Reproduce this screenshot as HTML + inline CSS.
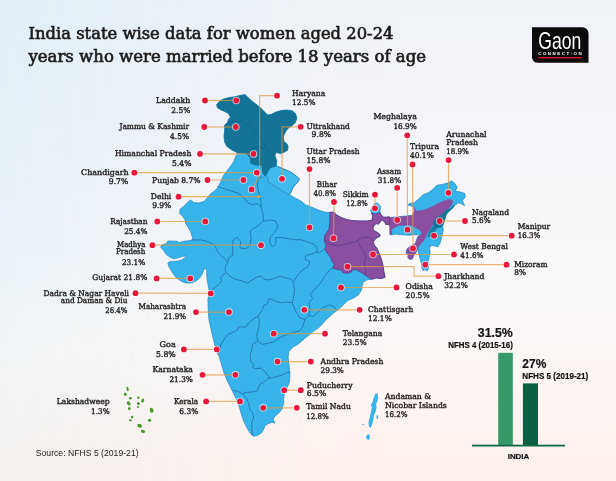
<!DOCTYPE html>
<html lang="en"><head><meta charset="utf-8"><title>India state wise data for women aged 20-24 years who were married before 18 years of age</title>
<style>
html,body{margin:0;padding:0;background:#fff;}
body{width:616px;height:481px;overflow:hidden;}
svg{display:block;}
.lbl{font-family:"DejaVu Serif","Liberation Serif",serif;font-size:7.8px;fill:#231f20;stroke:#231f20;stroke-width:0.38px;}
.ttl{font-family:"DejaVu Serif","Liberation Serif",serif;font-size:15.9px;fill:#1c1c1c;stroke:#1c1c1c;stroke-width:0.62px;}
.sb{font-family:"Liberation Sans",sans-serif;font-weight:bold;fill:#111;stroke:#111;stroke-width:0.2px;}
</style></head><body>
<svg width="616" height="481" viewBox="0 0 616 481">
<defs>
<linearGradient id="bgR" x1="0" y1="0" x2="0" y2="1">
<stop offset="0" stop-color="#eff3f7"/><stop offset="0.25" stop-color="#f4f4f9"/><stop offset="0.63" stop-color="#fcf9f9"/><stop offset="0.85" stop-color="#fdf4f1"/><stop offset="0.97" stop-color="#fdf1ed"/>
</linearGradient>
<linearGradient id="bgL" x1="0" y1="0" x2="0" y2="1">
<stop offset="0" stop-color="#e1eef6"/><stop offset="0.23" stop-color="#e4eff6"/><stop offset="0.52" stop-color="#e8f1f7"/><stop offset="0.73" stop-color="#f0f4f6"/><stop offset="0.97" stop-color="#f4f0ed"/>
</linearGradient>
<linearGradient id="mg" x1="0" y1="0" x2="1" y2="0">
<stop offset="0" stop-color="#fff" stop-opacity="1"/><stop offset="0.2" stop-color="#fff" stop-opacity="0.62"/><stop offset="0.5" stop-color="#fff" stop-opacity="0.1"/><stop offset="0.68" stop-color="#fff" stop-opacity="0"/>
</linearGradient>
<mask id="mL" maskUnits="userSpaceOnUse" x="0" y="0" width="616" height="481"><rect width="616" height="481" fill="url(#mg)"/></mask>
</defs>
<rect width="616" height="481" fill="url(#bgR)"/>
<rect width="616" height="481" fill="url(#bgL)" mask="url(#mL)"/>

<g stroke-linejoin="round">
<path d="M216.6,104.8 L218.8,101.9 L223.2,99 L229,97.5 L234.1,96.8 L240.7,95.3 L245.1,94.6 L248,97.5 L252.4,101.2 L256.8,104.8 L260.4,107.7 L264.1,111.4 L267.7,115 L271.4,114.3 L275.8,112.1 L280.9,110.6 L286,109.9 L291.8,110.6 L295.5,113.6 L296.9,118 L295.5,122.3 L291.8,126 L288.2,128.2 L285.5,131.8 L283.4,136.5 L284,141.5 L287.4,144.3 L288.2,147.5 L287.4,150.4 L283.7,152.5 L280.6,153.7 L276.2,152.5 L275,155.6 L276.8,161 L276.5,166 L281.2,168 L286.2,170 L291.2,172.4 L295.5,175.5 L299.3,178.7 L298,181.8 L294.9,184.9 L292.4,188.6 L291.2,191.8 L289.5,194.6 L295.4,198.2 L300.6,200.8 L305.8,204.9 L309.9,206.5 L315.1,208.6 L320.3,210.7 L325.5,212.2 L329.7,212.5 L333.9,212.2 L337,215.3 L341.1,217.4 L345,219 L350,220.3 L355,220.8 L361.2,221 L367.5,221 L372.2,220 L372.7,215.8 L371.6,213.2 L370.6,210.6 L373.7,204.4 L377.3,202.8 L380.5,206.4 L379.9,211.6 L381,214.7 L383.6,217.3 L385,217.4 L390.8,217.4 L399.6,216.6 L406.9,215.9 L412.8,215.2 L414.2,210.8 L413,206.4 L408.4,205.3 L409,203.5 L414.2,202.8 L418.6,199.1 L423,194.7 L428.8,192.5 L433.2,188.9 L436.9,185.2 L442,184.5 L447.8,183 L451.5,180.8 L455.1,183.8 L457.3,187.4 L455.1,191.1 L459.5,191.8 L464.6,193.3 L465.4,196.9 L462.4,200.6 L464.6,205.7 L461,203.5 L458.1,202.8 L453.7,206.4 L449.3,210.8 L446.4,213.7 L444.9,218.8 L443.4,223.9 L442.5,227 L443.4,229.7 L441.8,236.3 L440.1,242.9 L437.9,246.8 L433.5,245.7 L430.2,245.7 L429.7,248.4 L430.2,252.8 L429.1,257.2 L428,261.6 L428.6,266 L428,269.9 L426.4,271 L424.7,269.3 L423.1,270.4 L422,268.2 L421.4,263.8 L420.3,259.4 L419.2,255 L418.1,250.6 L418.2,247.5 L417,250.6 L415.4,253.4 L413.7,255.6 L412.6,258.9 L409.9,259.4 L407.7,257.8 L408.2,255 L406,252.8 L406.6,249.5 L409.3,246.8 L413,244.5 L415.4,243.5 L416.5,239.6 L418.1,236.3 L420.9,234.7 L414.8,234.7 L408.2,235.2 L401.6,234.7 L395,234.1 L391.9,235 L389.8,234.5 L389.8,225.1 L386.2,224.1 L383.6,221 L381.5,220 L380,222.5 L378.4,224.1 L376.3,223.6 L374.2,225.1 L372.7,228.3 L374.2,230.9 L377.3,232.4 L380,234.5 L379.9,236.3 L376,238.2 L373.4,241.5 L374.1,244.7 L376.7,248 L378.6,251.9 L380.6,257.1 L381.9,261 L383.2,266.2 L383.8,271.4 L385.1,277.2 L381.2,278.5 L376,277.9 L372.1,279.2 L367,279.8 L363,282.4 L361.8,287 L361.5,290 L358.2,295 L353.2,298.3 L347.4,300.8 L339.9,308.3 L333.3,313.3 L325.8,319.9 L320,326.6 L313.3,331.6 L305,338.2 L298.7,343.7 L292.4,347.5 L288.7,351.8 L288.1,357.5 L288.7,362.5 L289.3,367.5 L289.9,372.4 L289.9,377.4 L289.3,382.4 L287.2,387.5 L284.6,392.5 L283.7,398.7 L283.7,403.7 L281.8,409.3 L278.7,413.1 L274.9,416.2 L273.1,419.3 L274.9,423.1 L271.8,422.4 L268.1,423.7 L265,425.6 L263.7,429.3 L261.2,433.1 L257.5,435.6 L253.1,436.2 L250,433.1 L246.8,427.4 L243.7,421.2 L241.2,413.7 L238.7,405 L236.2,398.7 L232.9,392.1 L227.5,381.4 L223.9,372.5 L221.3,363.6 L218.6,354.6 L215,345.7 L212.3,335 L209,320 L208.3,312 L207.9,299 L209.3,293.4 L208.9,289 L207.4,281.8 L206.7,275.2 L206.7,270.1 L205.2,267.9 L203.8,270.1 L202.3,273.8 L200.1,277.4 L197.2,280.3 L192.8,282.5 L188.5,283.2 L184.1,282.5 L179.7,280.3 L176.1,277.4 L173.2,273.8 L171,270.1 L168.8,266.5 L167.8,263.1 L169.6,261.7 L173.9,261.4 L178.3,261.1 L181.9,259.9 L184.8,257.7 L186.3,255.9 L182.7,256.3 L178.3,257.7 L173.9,258.8 L169.6,257 L165.9,254.1 L163.7,250.5 L160.6,247.1 L162,244.8 L166.5,243.6 L167.7,241 L176.8,241.2 L179.4,242.5 L184.1,241.3 L192,240.3 L192.6,238.5 L192,236.1 L190.7,231.8 L188.2,227.4 L185.7,223.7 L185.1,219.9 L182.6,216.2 L179.5,213.1 L180.1,209.3 L184.5,205.6 L188.2,201.8 L190.7,200 L193.8,202.5 L198.8,203.1 L204.4,201.2 L207.5,197.5 L210.7,193.7 L215.7,190 L218.5,186.5 L220.7,181.8 L224,174.7 L228,169.5 L233,163 L236,156 L237.8,153 L231.9,150.1 L226.8,146.4 L224.6,142.1 L223.9,136.2 L224.6,130.4 L224.6,125.3 L227.5,122.3 L228.3,119.4 L230.5,117.2 L228.3,113.6 L224.6,111.4 L221,109.9 L217.3,107.7Z" fill="#37b4ea" stroke="#2786c4" stroke-width="0.7"/>
<path d="M268.7,168.7 L271.8,166.8 L276.8,166.2 L281.2,168 L286.2,170 L291.2,172.4 L295.5,175.5 L299.3,178.7 L298,181.8 L294.9,184.9 L292.4,188.6 L291.2,191.8 L288.7,194.9 L284.9,192.4 L278.7,188.6 L273.7,185.5 L268.7,182.4 L266.8,176.2 L267.5,171.2Z" fill="#41baee" stroke="#2172ab" stroke-width="0.6"/>
<path d="M329.7,212.3 L333.9,212.2 L337,215.3 L341.1,217.4 L345,219 L350,220.3 L355,220.8 L361.2,221 L367.5,221 L372.2,220 L372.7,215.8 L371.6,213.2 L375.8,214.2 L379.9,212.5 L381,214.7 L383.6,217.3 L389.3,216.8 L389.8,225.1 L386.2,224.1 L383.6,221 L381.5,220 L380,222.5 L378.4,224.1 L376.3,223.6 L374.2,225.1 L372.7,228.3 L374.2,230.9 L377.3,232.4 L380,234.5 L379.9,236.3 L376,238.2 L373.4,241.5 L374.1,244.7 L376.7,248 L378.6,251.9 L380.6,257.1 L381.9,261 L383.2,266.2 L383.8,271.4 L385.1,277.2 L381.2,278.5 L376,277.9 L372.1,279.2 L368.2,277.2 L364.4,274.6 L360.5,272 L356.6,270.1 L352.7,269.4 L351.4,272 L347.5,273.3 L342.9,272.7 L341.6,270.1 L337.1,269.4 L332.5,268.1 L334.5,264.9 L331.9,261 L330.6,257.1 L327.3,253.2 L324.7,249.3 L326,245.4 L324.1,240.2 L325,235 L329,229 L330,220Z" fill="#8a4fa0"/>
<path d="M385,217.4 L390.8,217.4 L399.6,216.6 L406.9,215.9 L412.8,215.2 L414.2,210.8 L414.2,206.4 L416.4,210.8 L423,210 L428.8,207.9 L434.7,205 L440.5,202 L446.4,199.8 L450,199.1 L452.9,200.6 L452.2,204.2 L449.3,207.9 L446.4,210.8 L443.4,213.7 L439.1,216.6 L436.1,218.8 L434,221.8 L432.5,225.4 L430.8,228.1 L428,232.5 L425.8,237.4 L423.6,241.3 L420.9,244 L418.7,246.8 L417,250.6 L415.4,253.4 L413.7,255.6 L412.6,258.9 L409.9,259.4 L407.7,257.8 L408.2,255 L406,252.8 L406.6,249.5 L409.3,246.8 L413,244.5 L415.4,243.5 L416.5,239.6 L418.1,236.3 L420.9,234.7 L421.4,233 L419.8,230.3 L414.8,227.5 L411.3,225.4 L404,225.4 L398.1,226.1 L392.3,229.1 L391.9,235 L389.8,234.5 L389.8,225.1 L385,224.7Z" fill="#8a4fa0"/>
<path d="M435.5,218.5 L439.1,215.8 L443.4,212.7 L446.8,209.6 L450.3,208.5 L452.5,206 L455,205 L453.7,207.5 L449.3,211.5 L446.6,214.5 L445.2,219 L443.6,224 L441.6,227.3 L437.6,228 L433,226.3 L433.6,221.8Z" fill="#157397"/>
<path d="M433,226.3 L437.6,228 L434,232.5 L430,237.5 L427.2,236.5 L430.3,229.1Z" fill="#157397" fill-opacity="0.85"/>
<path d="M216.6,104.8 L218.8,101.9 L223.2,99 L229,97.5 L234.1,96.8 L240.7,95.3 L245.1,94.6 L248,97.5 L252.4,101.2 L256.8,104.8 L260.4,107.7 L264.1,111.4 L267.7,115 L271.4,114.3 L275.8,112.1 L280.9,110.6 L286,109.9 L291.8,110.6 L295.5,113.6 L296.9,118 L295.5,122.3 L291.8,126 L288.2,128.2 L285.5,131.8 L283.4,136.5 L284,141.5 L287.4,144.3 L288.2,147.5 L287.4,150.4 L283.7,152.5 L280.6,153.7 L276.2,152.5 L275,155.6 L276.8,161 L276,166 L270,168.5 L268,172 L265,176.8 L262.3,172.4 L261.5,166 L256,165.5 L250.3,163.5 L249.9,157.8 L246,153.9 L237.8,153 L231.9,150.1 L226.8,146.4 L224.6,142.1 L223.9,136.2 L224.6,130.4 L224.6,125.3 L227.5,122.3 L228.3,119.4 L230.5,117.2 L228.3,113.6 L224.6,111.4 L221,109.9 L217.3,107.7Z" fill="#157397"/>
<g fill="none" stroke="#2172ab" stroke-width="0.9" stroke-linejoin="round">
<path d="M191.4,239.9 L200.8,239.9 L209.1,242 L215,245.6 L217.5,251.2 L221.2,255.6 L225,258.7 L227.5,262.5"/>
<path d="M227.5,262.5 L225.6,266.2 L225,270 L226.2,272.4 L223.1,275 L220.6,277.4 L221.9,280.6 L219.4,283.7 L215.4,287.5 L210.2,290.8"/>
<path d="M227.5,262.5 L228.7,257.5 L233.1,255 L232.5,248.7 L233.1,240 L236.8,237.5 L240.6,241.2 L240,248.1 L246.2,248.7 L250,245 L251.2,237.5 L250,231.2 L253.1,228.7 L257.4,226.2 L263.2,221.2"/>
<path d="M217.3,186.5 L228,190 L238,193 L244,198 L247.6,202.5 L251.7,204.6 L258,203.5 L261.2,207.5 L263.3,215.8 L263.2,221.2 L269.6,220 L275.8,221 L277.9,226.2 L274.8,232.4 L270.6,236.6 L269.6,242.8 L272.7,247 L275.8,243.9 L275.8,237.6"/>
<path d="M262.6,177 L258.5,178 L257.2,185.1 L258.5,191.9 L259.9,196.6 L261.2,204 L261.2,207.5"/>
<path d="M275.8,237.6 L282,237.6 L288.3,238.7 L294.5,239.7 L300.7,239.7 L307,241.8 L313.2,243.9 L317.4,248 L316.3,252.2 L319.5,252.2 L323.6,250.1"/>
<path d="M316.3,252.2 L311.1,254.3 L305.9,255.3 L304.9,259.4 L310.1,261.5 L308,266.7 L302.8,269.8 L298.7,274 L295.5,278.2 L293.5,282.3"/>
<path d="M226.2,272.4 L230,276.2 L235,279.3 L241.2,280.6 L247.5,283.1 L252.4,279.9 L257.4,276.8 L261.2,276.2 L263.7,279.3 L268.7,279.9 L273.7,278.7 L280,276.2 L286,278 L290.7,279.1 L293.5,282.3"/>
<path d="M293.5,282.3 L294.6,290.8 L293.3,298.6 L292,302.5 L295.9,311.6 L299.8,318.1 L305,319.4 L308.9,315.5 L310.2,309 L308.9,302.5 L312.8,298.6 L310.2,294.7 L315.4,288.2 L320.6,283 L324.5,276.5 L329.7,270 L332.5,268.1"/>
<path d="M292,302.5 L285,302.2 L281.5,302.7 L276.6,301.7 L271.7,299.3 L268.8,298.8 L266.9,304.6 L263.5,305.6 L262.5,309.5 L260.5,312.9 L258.1,315.8"/>
<path d="M258.1,315.8 L253.2,319.2 L248.4,323.1 L245.9,327 L238.6,327 L237.7,329.9 L232.8,332.4 L227.9,334.3 L224.5,338.8 L220.6,345.3 L216.7,347.9"/>
<path d="M220.6,345.3 L220,351 L217.3,354.5"/>
<path d="M258.1,315.8 L259.1,319.2 L259.1,325 L258.1,330 L256.8,335 L257.5,341.2"/>
<path d="M257.5,341.2 L262.5,344.4 L268.7,343.1 L273.7,341.9 L277.4,339.4 L281.2,336.9 L287.4,334.4 L293.7,332.5 L299.9,330.6 L303,326 L305,319.4"/>
<path d="M308.9,315.5 L313,316.5 L318,312 L323,307.5 L329,305 L334,306.5 L337,310.5"/>
<path d="M257.5,341.2 L252.5,344.4 L251.9,350 L250,355 L250.6,361.2 L253.7,364.3 L252.5,367.5 L255.6,368.7 L261.2,368.1 L264.3,371.2 L267.5,374.9 L269.3,378.1 L273.7,377.4 L278.7,376.2 L283.7,374.3 L287.4,372.4 L289.9,372.4"/>
<path d="M269.3,378.1 L266.2,380 L263.7,382.5 L260.6,383.7 L258.7,386.9 L257.5,390.6 L252.5,391.9 L246.2,392.5 L242.5,393.7 L238,391.5 L232.5,390"/>
<path d="M242.5,393.7 L246.8,398.7 L248.7,403.7 L250,410 L252.5,412.5 L253.7,417.5 L251.8,422.4 L251.8,428.7 L252.5,434.9"/>
</g>
<g fill="none" stroke="#5b2f86" stroke-width="0.9" stroke-opacity="0.8" stroke-linejoin="round">
<path d="M329.7,212.3 L333.9,212.2 L337,215.3 L341.1,217.4 L345,219 L350,220.3 L355,220.8 L361.2,221 L367.5,221 L372.2,220 L372.7,215.8 L371.6,213.2 L375.8,214.2 L379.9,212.5 L381,214.7 L383.6,217.3 L389.3,216.8 L389.8,225.1 L386.2,224.1 L383.6,221 L381.5,220 L380,222.5 L378.4,224.1 L376.3,223.6 L374.2,225.1 L372.7,228.3 L374.2,230.9 L377.3,232.4 L380,234.5 L379.9,236.3 L376,238.2 L373.4,241.5 L374.1,244.7 L376.7,248 L378.6,251.9 L380.6,257.1 L381.9,261 L383.2,266.2 L383.8,271.4 L385.1,277.2 L381.2,278.5 L376,277.9 L372.1,279.2 L368.2,277.2 L364.4,274.6 L360.5,272 L356.6,270.1 L352.7,269.4 L351.4,272 L347.5,273.3 L342.9,272.7 L341.6,270.1 L337.1,269.4 L332.5,268.1 L334.5,264.9 L331.9,261 L330.6,257.1 L327.3,253.2 L324.7,249.3 L326,245.4 L324.1,240.2 L325,235 L329,229 L330,220Z"/>
<path d="M324.6,239.7 L329.8,243.9 L338.2,245.9 L346.5,243.9 L355,241.8 L362,238 L368,237 L374,241"/>
<path d="M358,240.5 L360.5,247 L364,252 L366,258 L364,263 L366,269 L365,274.8"/>
</g>
<g fill="none" stroke="#10506b" stroke-width="0.7" stroke-opacity="0.55">
<path d="M224.6,125.3 L233,121 L243,122 L252,128 L259,136 L265,145 L270,152 L275,155.6"/>
<path d="M246,153.9 L252,149 L259,147 L265,149"/>
</g>
<path d="M375.3,393.8 L377.7,393.4 L378.2,397.2 L377.3,401.9 L375.9,403.9 L376.6,407.3 L375.5,412 L373.9,415.4 L373.2,420.1 L372.3,424.2 L370.5,428 L368.9,426.2 L368.5,422.2 L369.6,418.1 L370.5,414.1 L371.2,410.7 L371.9,407.3 L370.9,404.6 L372.6,401.9 L373.6,397.8Z" fill="#37b4ea"/>
<path d="M376.6,415 L378.2,415.4 L378,418.5 L376.4,418.8Z" fill="#37b4ea"/>
<path d="M362.4,423.8 L364.2,424.2 L363.9,425.3 L362.6,425.1Z" fill="#37b4ea"/>
<path d="M367.8,433.9 L369.6,435 L369.9,437.7 L368.5,440.1 L366.5,439.1 L366.1,436.4Z" fill="#37b4ea"/>
<ellipse cx="127.6" cy="389.1" rx="1.1" ry="2.3" fill="#4a9a2c" stroke="#fff" stroke-opacity="0.6" stroke-width="0.8" paint-order="stroke" transform="rotate(-10 127.6 389.1)"/>
<ellipse cx="125.3" cy="394.3" rx="1.4" ry="1.7" fill="#4a9a2c" stroke="#fff" stroke-opacity="0.6" stroke-width="0.8" paint-order="stroke" transform="rotate(-30 125.3 394.3)"/>
<ellipse cx="130.4" cy="398.3" rx="1.5" ry="1.3" fill="#4a9a2c" stroke="#fff" stroke-opacity="0.6" stroke-width="0.8" paint-order="stroke" transform="rotate(0 130.4 398.3)"/>
<ellipse cx="128.7" cy="403.4" rx="1.6" ry="2.4" fill="#4a9a2c" stroke="#fff" stroke-opacity="0.6" stroke-width="0.8" paint-order="stroke" transform="rotate(-40 128.7 403.4)"/>
<ellipse cx="129.3" cy="408.6" rx="1.4" ry="1.6" fill="#4a9a2c" stroke="#fff" stroke-opacity="0.6" stroke-width="0.8" paint-order="stroke" transform="rotate(0 129.3 408.6)"/>
<ellipse cx="138.4" cy="397.7" rx="1.2" ry="1.2" fill="#4a9a2c" stroke="#fff" stroke-opacity="0.6" stroke-width="0.8" paint-order="stroke" transform="rotate(0 138.4 397.7)"/>
<ellipse cx="142.8" cy="400.6" rx="1.4" ry="2.1" fill="#4a9a2c" stroke="#fff" stroke-opacity="0.6" stroke-width="0.8" paint-order="stroke" transform="rotate(25 142.8 400.6)"/>
<ellipse cx="138.4" cy="403.4" rx="1.5" ry="1.5" fill="#4a9a2c" stroke="#fff" stroke-opacity="0.6" stroke-width="0.8" paint-order="stroke" transform="rotate(0 138.4 403.4)"/>
<ellipse cx="137.9" cy="406.9" rx="0.9" ry="1.2" fill="#4a9a2c" stroke="#fff" stroke-opacity="0.6" stroke-width="0.8" paint-order="stroke" transform="rotate(0 137.9 406.9)"/>
<ellipse cx="151.6" cy="410.3" rx="1.8" ry="2.6" fill="#4a9a2c" stroke="#fff" stroke-opacity="0.6" stroke-width="0.8" paint-order="stroke" transform="rotate(-20 151.6 410.3)"/>
<ellipse cx="132.1" cy="417.1" rx="1.3" ry="1.4" fill="#4a9a2c" stroke="#fff" stroke-opacity="0.6" stroke-width="0.8" paint-order="stroke" transform="rotate(0 132.1 417.1)"/>
<ellipse cx="130.4" cy="420.3" rx="1.5" ry="1" fill="#4a9a2c" stroke="#fff" stroke-opacity="0.6" stroke-width="0.8" paint-order="stroke" transform="rotate(0 130.4 420.3)"/>
<ellipse cx="149.6" cy="420.2" rx="1.7" ry="1.5" fill="#4a9a2c" stroke="#fff" stroke-opacity="0.6" stroke-width="0.8" paint-order="stroke" transform="rotate(0 149.6 420.2)"/>
<ellipse cx="139.6" cy="425.7" rx="2.4" ry="1.9" fill="#4a9a2c" stroke="#fff" stroke-opacity="0.6" stroke-width="0.8" paint-order="stroke" transform="rotate(20 139.6 425.7)"/>
<ellipse cx="143" cy="431.4" rx="2.2" ry="1.5" fill="#4a9a2c" stroke="#fff" stroke-opacity="0.6" stroke-width="0.8" paint-order="stroke" transform="rotate(10 143 431.4)"/>
</g>
<g fill="none" stroke="#e2983e" stroke-width="1.2" stroke-opacity="0.7">
<path d="M205,100.5 L236.25,100.5"/>
<path d="M204.25,127 L235.75,127"/>
<path d="M200,153.9 L253.5,153.9"/>
<path d="M134.3,172.7 L256.75,172.7"/>
<path d="M207.5,180 L243.4,180"/>
<path d="M178.5,196.7 L259,196.7"/>
<path d="M277,95.7 L259.7,95.7 L259.7,176 L251.6,189.4"/>
<path d="M300.6,126.8 L282,126.8 L282,178.8"/>
<path d="M309.5,169.1 L309.5,227.5"/>
<path d="M334,202 L333.5,238.25"/>
<path d="M375,194.7 L375,208.3"/>
<path d="M397.2,187.8 L397.2,220"/>
<path d="M407.2,135.3 L407.5,229.7"/>
<path d="M412.5,164.5 L413,248.3"/>
<path d="M448.6,160.1 L448.4,192.8"/>
<path d="M465,221 L439.6,221"/>
<path d="M511.7,235.7 L434,235.7"/>
<path d="M454,254.5 L373,254.5"/>
<path d="M506.5,264.7 L425.3,264.7"/>
<path d="M438.4,276.2 L414,276.2 L414,266.7 L347.5,266.7"/>
<path d="M396.5,287.5 L341,287.5"/>
<path d="M359.6,309.8 L304.3,309.8"/>
<path d="M325,333.7 L273.75,333.7"/>
<path d="M310.8,361.6 L277.5,361.6"/>
<path d="M300.75,390.2 L284.25,390.2"/>
<path d="M296.75,407.8 L263.25,407.8"/>
<path d="M157.3,221.5 L205.3,221.5"/>
<path d="M152.4,245.2 L261,245.2"/>
<path d="M156.6,278.4 L190.3,278.4"/>
<path d="M135.5,293.2 L210.8,293.4"/>
<path d="M196,312.1 L229,312.1"/>
<path d="M183.9,349.4 L216.8,349.4"/>
<path d="M202.5,374.8 L235.4,374.8"/>
<path d="M206.1,401.4 L240,401.4"/>
</g>
<circle cx="259" cy="196.7" r="1.4" fill="#f0a23a"/>
<g fill="#e8173c" stroke="#fff" stroke-opacity="0.7" stroke-width="1.7" paint-order="stroke">
<circle cx="205" cy="100.5" r="2.9"/>
<circle cx="236.25" cy="100.5" r="2.9"/>
<circle cx="204.25" cy="127" r="2.9"/>
<circle cx="235.75" cy="127" r="2.9"/>
<circle cx="200" cy="153.9" r="2.9"/>
<circle cx="253.5" cy="153.9" r="2.9"/>
<circle cx="134.3" cy="172.7" r="2.9"/>
<circle cx="256.75" cy="172.7" r="2.9"/>
<circle cx="207.5" cy="180" r="2.9"/>
<circle cx="243.4" cy="180" r="2.9"/>
<circle cx="178.5" cy="196.7" r="2.9"/>
<circle cx="277" cy="95.7" r="2.9"/>
<circle cx="251.6" cy="189.4" r="2.9"/>
<circle cx="300.6" cy="126.8" r="2.9"/>
<circle cx="282" cy="178.8" r="2.9"/>
<circle cx="309.5" cy="169.1" r="2.9"/>
<circle cx="309.5" cy="227.5" r="2.9"/>
<circle cx="334" cy="202" r="2.9"/>
<circle cx="333.5" cy="238.25" r="2.9"/>
<circle cx="375" cy="194.7" r="2.9"/>
<circle cx="375" cy="208.3" r="2.9"/>
<circle cx="397.2" cy="187.8" r="2.9"/>
<circle cx="397.2" cy="220" r="2.9"/>
<circle cx="407.2" cy="135.3" r="2.9"/>
<circle cx="407.5" cy="229.7" r="2.9"/>
<circle cx="412.5" cy="164.5" r="2.9"/>
<circle cx="413" cy="248.3" r="2.9"/>
<circle cx="448.6" cy="160.1" r="2.9"/>
<circle cx="448.4" cy="192.8" r="2.9"/>
<circle cx="465" cy="221" r="2.9"/>
<circle cx="439.6" cy="221" r="2.9"/>
<circle cx="511.7" cy="235.7" r="2.9"/>
<circle cx="434" cy="235.7" r="2.9"/>
<circle cx="454" cy="254.5" r="2.9"/>
<circle cx="373" cy="254.5" r="2.9"/>
<circle cx="506.5" cy="264.7" r="2.9"/>
<circle cx="425.3" cy="264.7" r="2.9"/>
<circle cx="438.4" cy="276.2" r="2.9"/>
<circle cx="347.5" cy="266.7" r="2.9"/>
<circle cx="396.5" cy="287.5" r="2.9"/>
<circle cx="341" cy="287.5" r="2.9"/>
<circle cx="359.6" cy="309.8" r="2.9"/>
<circle cx="304.3" cy="309.8" r="2.9"/>
<circle cx="325" cy="333.7" r="2.9"/>
<circle cx="273.75" cy="333.7" r="2.9"/>
<circle cx="310.8" cy="361.6" r="2.9"/>
<circle cx="277.5" cy="361.6" r="2.9"/>
<circle cx="300.75" cy="390.2" r="2.9"/>
<circle cx="284.25" cy="390.2" r="2.9"/>
<circle cx="296.75" cy="407.8" r="2.9"/>
<circle cx="263.25" cy="407.8" r="2.9"/>
<circle cx="157.3" cy="221.5" r="2.9"/>
<circle cx="205.3" cy="221.5" r="2.9"/>
<circle cx="152.4" cy="245.2" r="2.9"/>
<circle cx="261" cy="245.2" r="2.9"/>
<circle cx="156.6" cy="278.4" r="2.9"/>
<circle cx="190.3" cy="278.4" r="2.9"/>
<circle cx="135.5" cy="293.2" r="2.9"/>
<circle cx="210.8" cy="293.4" r="2.9"/>
<circle cx="196" cy="312.1" r="2.9"/>
<circle cx="229" cy="312.1" r="2.9"/>
<circle cx="183.9" cy="349.4" r="2.9"/>
<circle cx="216.8" cy="349.4" r="2.9"/>
<circle cx="202.5" cy="374.8" r="2.9"/>
<circle cx="235.4" cy="374.8" r="2.9"/>
<circle cx="206.1" cy="401.4" r="2.9"/>
<circle cx="240" cy="401.4" r="2.9"/>
</g>
<g class="lbl">
<text x="190.3" y="103" text-anchor="end" textLength="34.3" lengthAdjust="spacingAndGlyphs">Laddakh</text>
<text x="190.3" y="112.9" text-anchor="end" textLength="19" lengthAdjust="spacingAndGlyphs">2.5%</text>
<text x="189.1" y="129.3" text-anchor="end" textLength="69.7" lengthAdjust="spacingAndGlyphs">Jammu &amp; Kashmir</text>
<text x="189.1" y="139.1" text-anchor="end" textLength="19" lengthAdjust="spacingAndGlyphs">4.5%</text>
<text x="191.4" y="155.8" text-anchor="end" textLength="76.5" lengthAdjust="spacingAndGlyphs">Himanchal Pradesh</text>
<text x="191.4" y="165.9" text-anchor="end" textLength="19.4" lengthAdjust="spacingAndGlyphs">5.4%</text>
<text x="128.6" y="174.6" text-anchor="end" textLength="47.5" lengthAdjust="spacingAndGlyphs">Chandigarh</text>
<text x="128.2" y="183.8" text-anchor="end" textLength="19.4" lengthAdjust="spacingAndGlyphs">9.7%</text>
<text x="152.1" y="183.3" text-anchor="start" textLength="48.5" lengthAdjust="spacingAndGlyphs">Punjab 8.7%</text>
<text x="150.8" y="199.2" text-anchor="start" textLength="20.5" lengthAdjust="spacingAndGlyphs">Delhi</text>
<text x="152.2" y="208" text-anchor="start" textLength="19" lengthAdjust="spacingAndGlyphs">9.9%</text>
<text x="147.5" y="224.1" text-anchor="end" textLength="37.3" lengthAdjust="spacingAndGlyphs">Rajasthan</text>
<text x="147.5" y="233.8" text-anchor="end" textLength="23.3" lengthAdjust="spacingAndGlyphs">25.4%</text>
<text x="145.3" y="246.8" text-anchor="end" textLength="28.3" lengthAdjust="spacingAndGlyphs">Madhya</text>
<text x="145.3" y="254.3" text-anchor="end" textLength="29.3" lengthAdjust="spacingAndGlyphs">Pradesh</text>
<text x="145.3" y="265.3" text-anchor="end" textLength="23.4" lengthAdjust="spacingAndGlyphs">23.1%</text>
<text x="147.5" y="280.3" text-anchor="end" textLength="55.2" lengthAdjust="spacingAndGlyphs">Gujarat 21.8%</text>
<text x="129" y="295.5" text-anchor="end" textLength="85.4" lengthAdjust="spacingAndGlyphs">Dadra &amp; Nagar Haveli</text>
<text x="127.4" y="303" text-anchor="end" textLength="66.6" lengthAdjust="spacingAndGlyphs">and Daman &amp; Diu</text>
<text x="127.4" y="312.7" text-anchor="end" textLength="22.1" lengthAdjust="spacingAndGlyphs">26.4%</text>
<text x="186" y="309.4" text-anchor="end" textLength="47.5" lengthAdjust="spacingAndGlyphs">Maharashtra</text>
<text x="186" y="319.2" text-anchor="end" textLength="22.6" lengthAdjust="spacingAndGlyphs">21.9%</text>
<text x="175.7" y="347.1" text-anchor="end" textLength="16.1" lengthAdjust="spacingAndGlyphs">Goa</text>
<text x="175.7" y="356.8" text-anchor="end" textLength="19.7" lengthAdjust="spacingAndGlyphs">5.8%</text>
<text x="192.9" y="372.1" text-anchor="end" textLength="40.4" lengthAdjust="spacingAndGlyphs">Karnataka</text>
<text x="192.9" y="381.8" text-anchor="end" textLength="23.5" lengthAdjust="spacingAndGlyphs">21.3%</text>
<text x="198.2" y="404.3" text-anchor="end" textLength="24.3" lengthAdjust="spacingAndGlyphs">Kerala</text>
<text x="198.2" y="413.9" text-anchor="end" textLength="18.9" lengthAdjust="spacingAndGlyphs">6.3%</text>
<text x="109.6" y="404.3" text-anchor="end" textLength="52.8" lengthAdjust="spacingAndGlyphs">Lakshadweep</text>
<text x="109.6" y="413.9" text-anchor="end" textLength="18.5" lengthAdjust="spacingAndGlyphs">1.3%</text>
<text x="292.1" y="95.6" text-anchor="start" textLength="33.2" lengthAdjust="spacingAndGlyphs">Haryana</text>
<text x="292.1" y="105.2" text-anchor="start" textLength="23.4" lengthAdjust="spacingAndGlyphs">12.5%</text>
<text x="306.4" y="128.8" text-anchor="start" textLength="43.3" lengthAdjust="spacingAndGlyphs">Uttrakhand</text>
<text x="311.6" y="137.1" text-anchor="start" textLength="19.4" lengthAdjust="spacingAndGlyphs">9.8%</text>
<text x="306.4" y="154" text-anchor="start" textLength="53.2" lengthAdjust="spacingAndGlyphs">Uttar Pradesh</text>
<text x="306.4" y="163.1" text-anchor="start" textLength="24.2" lengthAdjust="spacingAndGlyphs">15.8%</text>
<text x="316.8" y="186.5" text-anchor="start" textLength="20.2" lengthAdjust="spacingAndGlyphs">Bihar</text>
<text x="313.6" y="195.6" text-anchor="start" textLength="22.5" lengthAdjust="spacingAndGlyphs">40.8%</text>
<text x="342.7" y="196.9" text-anchor="start" textLength="26" lengthAdjust="spacingAndGlyphs">Sikkim</text>
<text x="346.2" y="205.6" text-anchor="start" textLength="21.4" lengthAdjust="spacingAndGlyphs">12.8%</text>
<text x="416.8" y="119" text-anchor="end" textLength="43.4" lengthAdjust="spacingAndGlyphs">Meghalaya</text>
<text x="416.8" y="128.8" text-anchor="end" textLength="23.4" lengthAdjust="spacingAndGlyphs">16.9%</text>
<text x="409.9" y="149" text-anchor="start" textLength="29.1" lengthAdjust="spacingAndGlyphs">Tripura</text>
<text x="409.9" y="158.3" text-anchor="start" textLength="23.9" lengthAdjust="spacingAndGlyphs">40.1%</text>
<text x="377" y="174" text-anchor="start" textLength="24.2" lengthAdjust="spacingAndGlyphs">Assam</text>
<text x="377.8" y="182.6" text-anchor="start" textLength="23.4" lengthAdjust="spacingAndGlyphs">31.8%</text>
<text x="446.2" y="136.8" text-anchor="start" textLength="40.3" lengthAdjust="spacingAndGlyphs">Arunachal</text>
<text x="446.2" y="144.5" text-anchor="start" textLength="31.7" lengthAdjust="spacingAndGlyphs">Pradesh</text>
<text x="446.2" y="153.6" text-anchor="start" textLength="22.6" lengthAdjust="spacingAndGlyphs">18.9%</text>
<text x="472" y="214.8" text-anchor="start" textLength="37" lengthAdjust="spacingAndGlyphs">Nagaland</text>
<text x="472" y="223.4" text-anchor="start" textLength="18.6" lengthAdjust="spacingAndGlyphs">5.6%</text>
<text x="517.7" y="228.6" text-anchor="start" textLength="32.4" lengthAdjust="spacingAndGlyphs">Manipur</text>
<text x="517.7" y="237.7" text-anchor="start" textLength="22.6" lengthAdjust="spacingAndGlyphs">16.3%</text>
<text x="460.3" y="249.4" text-anchor="start" textLength="47.5" lengthAdjust="spacingAndGlyphs">West Bengal</text>
<text x="460.3" y="257.7" text-anchor="start" textLength="23.3" lengthAdjust="spacingAndGlyphs">41.6%</text>
<text x="514.3" y="267" text-anchor="start" textLength="33.2" lengthAdjust="spacingAndGlyphs">Mizoram</text>
<text x="514.3" y="275.3" text-anchor="start" textLength="11.7" lengthAdjust="spacingAndGlyphs">8%</text>
<text x="444.2" y="278.7" text-anchor="start" textLength="40.2" lengthAdjust="spacingAndGlyphs">Jharkhand</text>
<text x="444.2" y="287.5" text-anchor="start" textLength="23.8" lengthAdjust="spacingAndGlyphs">32.2%</text>
<text x="405.6" y="288.6" text-anchor="start" textLength="27.3" lengthAdjust="spacingAndGlyphs">Odisha</text>
<text x="405.6" y="298.1" text-anchor="start" textLength="24" lengthAdjust="spacingAndGlyphs">20.5%</text>
<text x="367.9" y="312.1" text-anchor="start" textLength="45.5" lengthAdjust="spacingAndGlyphs">Chattisgarh</text>
<text x="367.9" y="321.2" text-anchor="start" textLength="23.9" lengthAdjust="spacingAndGlyphs">12.1%</text>
<text x="342.7" y="335.5" text-anchor="start" textLength="39.5" lengthAdjust="spacingAndGlyphs">Telangana</text>
<text x="342.7" y="345.3" text-anchor="start" textLength="23.9" lengthAdjust="spacingAndGlyphs">23.5%</text>
<text x="320.6" y="363.5" text-anchor="start" textLength="62.9" lengthAdjust="spacingAndGlyphs">Andhra Pradesh</text>
<text x="320.6" y="373.1" text-anchor="start" textLength="23.2" lengthAdjust="spacingAndGlyphs">29.3%</text>
<text x="306.8" y="387.5" text-anchor="start" textLength="45.9" lengthAdjust="spacingAndGlyphs">Puducherry</text>
<text x="306.8" y="395.5" text-anchor="start" textLength="19.5" lengthAdjust="spacingAndGlyphs">6.5%</text>
<text x="306.3" y="409" text-anchor="start" textLength="44.5" lengthAdjust="spacingAndGlyphs">Tamil Nadu</text>
<text x="306.3" y="418.5" text-anchor="start" textLength="22.5" lengthAdjust="spacingAndGlyphs">12.8%</text>
<text x="385" y="399.3" text-anchor="start" textLength="46" lengthAdjust="spacingAndGlyphs">Andaman &amp;</text>
<text x="385" y="407.7" text-anchor="start" textLength="61.8" lengthAdjust="spacingAndGlyphs">Nicobar Islands</text>
<text x="385" y="416.8" text-anchor="start" textLength="22.5" lengthAdjust="spacingAndGlyphs">16.2%</text>
</g>
<text class="ttl" x="28.5" y="39.4" textLength="365" lengthAdjust="spacingAndGlyphs">India state wise data for women aged 20-24</text>
<text class="ttl" x="28.5" y="62" textLength="397.5" lengthAdjust="spacingAndGlyphs">years who were married before 18 years of age</text>
<g>
<path d="M532,27.3 H582.5 A6,6 0 0 1 588.5,33.3 V62.8 H537.5 A5.5,5.5 0 0 1 532,57.3 Z" fill="#0b0b0b"/>
<text x="538.3" y="49.1" font-family="Liberation Sans, sans-serif" font-size="24" fill="#fff" textLength="43" lengthAdjust="spacingAndGlyphs">Gaon</text>
<text x="538.2" y="55" font-family="Liberation Sans, sans-serif" font-weight="bold" font-size="4.4" fill="#fff" textLength="43.4" lengthAdjust="spacing">CONNECT<tspan fill="#e3202c">I</tspan>ON</text>
<rect x="538.2" y="57" width="43.4" height="1.4" fill="#d8141f"/>
</g>
<g>
<rect x="498.2" y="352.8" width="14.6" height="92.5" fill="#37996a"/>
<rect x="522.9" y="383.4" width="15.1" height="62" fill="#0b5f43"/>
<rect x="472" y="444.7" width="93" height="1.8" fill="#0f6a4a"/>
<text class="sb" x="512.8" y="336.5" text-anchor="end" font-size="13" textLength="35" lengthAdjust="spacingAndGlyphs">31.5%</text>
<text class="sb" x="512.8" y="347.9" text-anchor="end" font-size="8.6" textLength="64.6" lengthAdjust="spacingAndGlyphs">NFHS 4 (2015-16)</text>
<text class="sb" x="522.3" y="367.8" font-size="13" textLength="24" lengthAdjust="spacingAndGlyphs">27%</text>
<text class="sb" x="522.3" y="378.9" font-size="8.6" textLength="66" lengthAdjust="spacingAndGlyphs">NFHS 5 (2019-21)</text>
<text class="sb" x="518.5" y="459" text-anchor="middle" font-size="7.8" textLength="21.6" lengthAdjust="spacingAndGlyphs">INDIA</text>
</g>
<text x="35.8" y="456.3" font-family="Liberation Sans, sans-serif" font-size="8.7" fill="#222" textLength="102.8" lengthAdjust="spacingAndGlyphs">Source: NFHS 5 (2019-21)</text>
</svg></body></html>
